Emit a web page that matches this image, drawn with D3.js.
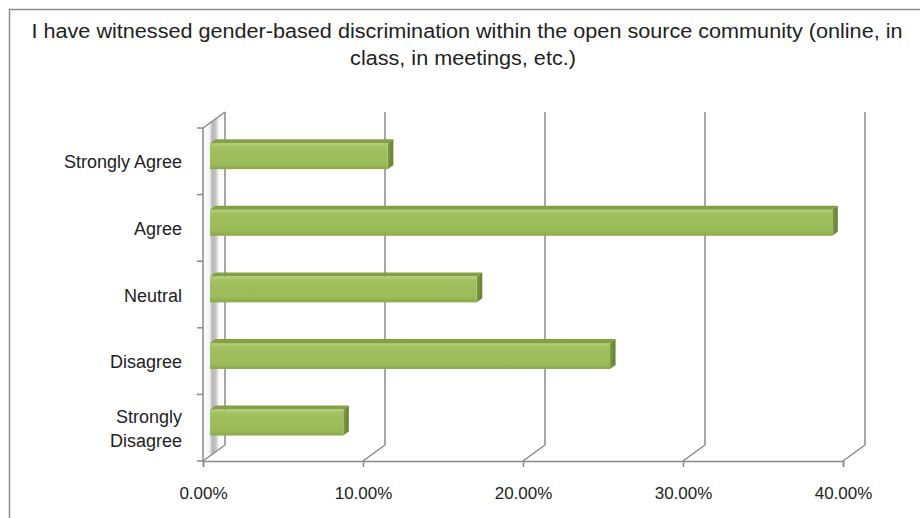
<!DOCTYPE html>
<html>
<head>
<meta charset="utf-8">
<script src="https://cdn.jsdelivr.net/npm/d3@7/dist/d3.min.js"></script>
<style>
  html, body { margin: 0; padding: 0; background: #fff; }
  svg { display: block; }
</style>
</head>
<body>
<svg id="chart" width="920" height="518"></svg>
<script>
// Survey responses (share of respondents)
const categories = ["Strongly Agree", "Agree", "Neutral", "Disagree", "Strongly Disagree"];
const shares = [0.1111, 0.3889, 0.1667, 0.2500, 0.0833];
const xTicks = [0, 0.10, 0.20, 0.30, 0.40];
const titleLines = [
  "I have witnessed gender-based discrimination within the open source community (online,  in",
  "class, in meetings, etc.)"
];

(function draw() {
  const svg = d3.select("#chart");
  const W = 920, H = 518;
  const font = "'Liberation Sans', Arial, sans-serif";

  // outer frame (runs off the right and bottom edges)
  svg.append("rect")
    .attr("x", 9.5).attr("y", 9.5).attr("width", W + 20).attr("height", H + 20)
    .attr("fill", "#fff").attr("stroke", "#8c8c8c").attr("stroke-width", 1.5);

  // plot geometry: front plane plus a receding depth offset
  const pLeft = 203, pRight = 843, pTop = 128, pBottom = 461;
  const DX = 22, DY = -16;

  const x = d3.scaleLinear().domain([0, 0.40]).range([pLeft, pRight]);
  const y = d3.scaleBand().domain(categories).range([pTop, pBottom]).paddingInner(0).paddingOuter(0);

  const defs = svg.append("defs");
  const wallGrad = defs.append("linearGradient").attr("id", "wallGrad")
    .attr("x1", 0).attr("x2", 1).attr("y1", 0).attr("y2", 0);
  [[0, "#ffffff"], [0.3, "#f4f4f4"], [0.42, "#b5b5b5"], [0.58, "#c4c4c4"], [0.72, "#f8f8f8"], [1, "#ffffff"]]
    .forEach(([o, c]) => wallGrad.append("stop").attr("offset", o).attr("stop-color", c));

  const frontGrad = defs.append("linearGradient").attr("id", "frontGrad")
    .attr("x1", 0).attr("x2", 0).attr("y1", 0).attr("y2", 1);
  [[0, "#a9c76b"], [0.25, "#a0bf5f"], [0.8, "#9bbb59"], [1, "#8aa84b"]]
    .forEach(([o, c]) => frontGrad.append("stop").attr("offset", o).attr("stop-color", c));

  const sideGrad = defs.append("linearGradient").attr("id", "sideGrad")
    .attr("x1", 0).attr("x2", 1).attr("y1", 0).attr("y2", 0);
  [[0, "#7d9a40"], [1, "#667f30"]]
    .forEach(([o, c]) => sideGrad.append("stop").attr("offset", o).attr("stop-color", c));

  const gridColor = "#8a8a8a";
  const g = svg.append("g");

  // left side wall
  g.append("polygon")
    .attr("points", [[pLeft, pTop], [pLeft + DX, pTop + DY], [pLeft + DX, pBottom + DY], [pLeft, pBottom]].join(" "))
    .attr("fill", "url(#wallGrad)");

  // back-wall gridlines and floor diagonals
  xTicks.forEach(t => {
    g.append("line")
      .attr("x1", x(t) + DX).attr("x2", x(t) + DX)
      .attr("y1", pTop + DY).attr("y2", pBottom + DY)
      .attr("stroke", gridColor).attr("stroke-width", 1.5);
    g.append("line")
      .attr("x1", x(t)).attr("y1", pBottom)
      .attr("x2", x(t) + DX).attr("y2", pBottom + DY)
      .attr("stroke", gridColor).attr("stroke-width", 1.5);
  });

  // wall front edge and top diagonal
  g.append("line").attr("x1", pLeft).attr("x2", pLeft).attr("y1", pTop).attr("y2", pBottom)
    .attr("stroke", gridColor).attr("stroke-width", 1.5);
  g.append("line").attr("x1", pLeft).attr("y1", pTop).attr("x2", pLeft + DX).attr("y2", pTop + DY)
    .attr("stroke", gridColor).attr("stroke-width", 1.5);

  // category ticks on the wall front edge
  const yEdges = categories.map(c => y(c)).concat([pBottom]);
  g.selectAll(".ytick").data(yEdges).enter().append("line")
    .attr("x1", pLeft - 6).attr("x2", pLeft)
    .attr("y1", d => d).attr("y2", d => d)
    .attr("stroke", gridColor).attr("stroke-width", 1.5);

  // front x axis
  const xAxis = d3.axisBottom(x).tickValues(xTicks).tickFormat(d3.format(".2%")).tickSize(6).tickPadding(20);
  const ax = svg.append("g").attr("transform", `translate(0,${pBottom})`).call(xAxis);
  ax.select(".domain").attr("stroke", gridColor).attr("stroke-width", 1.5);
  ax.selectAll(".tick line").attr("stroke", gridColor).attr("stroke-width", 1.5);
  ax.selectAll(".tick text").attr("fill", "#222").style("font-family", font).style("font-size", "17px");

  // 3D bars sitting between depth fractions f1 and f2
  const f1 = 0.32, f2 = 0.57;
  const barH = y.bandwidth() * 0.39;
  const bars = g.selectAll(".bar").data(categories.map((c, i) => ({ c, v: shares[i] }))).enter()
    .append("g").attr("class", "bar");

  bars.each(function (d) {
    const sel = d3.select(this);
    const cy = y(d.c) + y.bandwidth() / 2;
    const x0 = x(0) + f1 * DX, x1 = x(d.v) + f1 * DX;
    const y0 = cy - barH / 2 + f1 * DY, y1 = cy + barH / 2 + f1 * DY;
    const ox = (f2 - f1) * DX, oy = (f2 - f1) * DY;
    // top face
    sel.append("polygon")
      .attr("points", [[x0, y0], [x0 + ox, y0 + oy], [x1 + ox, y0 + oy], [x1, y0]].join(" "))
      .attr("fill", "#83a044");
    // right face
    sel.append("polygon")
      .attr("points", [[x1, y0], [x1 + ox, y0 + oy], [x1 + ox, y1 + oy], [x1, y1]].join(" "))
      .attr("fill", "url(#sideGrad)");
    // front face
    sel.append("rect")
      .attr("x", x0).attr("y", y0).attr("width", x1 - x0).attr("height", y1 - y0)
      .attr("fill", "url(#frontGrad)");
    sel.append("line")
      .attr("x1", x0 + 1).attr("x2", x1 - 1).attr("y1", y0 + 1.5).attr("y2", y0 + 1.5)
      .attr("stroke", "#b4d078").attr("stroke-width", 1.5).attr("opacity", 0.8);
  });

  // category labels
  const labelLines = {
    "Strongly Disagree": ["Strongly", "Disagree"]
  };
  categories.forEach(c => {
    const lines = labelLines[c] || [c];
    const cy = y(c) + y.bandwidth() / 2;
    const lh = 24;
    const t = svg.append("text")
      .attr("text-anchor", "end")
      .style("font-family", font).style("font-size", "18px").attr("fill", "#222");
    lines.forEach((ln, i) => {
      t.append("tspan").attr("x", 182)
        .attr("y", cy + (i - (lines.length - 1) / 2) * lh + 7)
        .text(ln);
    });
  });

  // title: slightly condensed so the first line spans the frame
  const titleSize = 20;
  const title = svg.append("g");
  const t1 = title.append("text").attr("x", 467).attr("y", 38).attr("text-anchor", "middle")
    .style("font-family", font).style("font-size", titleSize + "px").attr("fill", "#222").text(titleLines[0]);
  const t2 = title.append("text").attr("x", 463).attr("y", 65).attr("text-anchor", "middle")
    .style("font-family", font).style("font-size", titleSize + "px").attr("fill", "#222").text(titleLines[1]);
  const ratio = 871 / t1.node().getComputedTextLength();
  const w2 = t2.node().getComputedTextLength() * ratio;
  t1.attr("textLength", 871).attr("lengthAdjust", "spacingAndGlyphs");
  t2.attr("textLength", w2).attr("lengthAdjust", "spacingAndGlyphs");
})();
</script>
</body>
</html>
